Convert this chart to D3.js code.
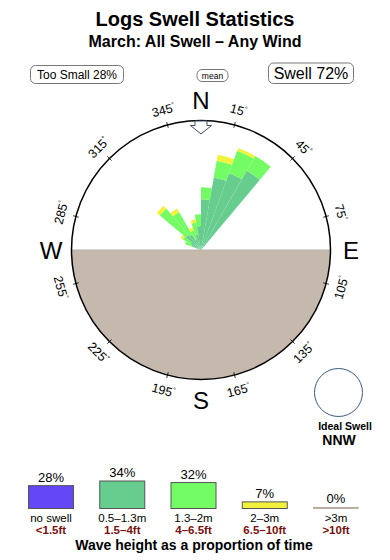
<!DOCTYPE html>
<html>
<head>
<meta charset="utf-8">
<script src="https://cdn.jsdelivr.net/npm/d3@7"></script>
<style>
  html, body { margin: 0; padding: 0; background: #fff; }
  svg { display: block; font-family: "Liberation Sans", Arial, Helvetica, sans-serif; }
</style>
</head>
<body>
<svg id="chart" width="390" height="560"></svg>
<script>
// ---------- data ----------
const title = "Logs Swell Statistics";
const subtitle = "March: All Swell \u2013 Any Wind";
const tooSmallPct = 28;
const swellPct = 72;
const idealSwell = "NNW";
const meanDirection = 0;

// direction bins (start angle, degrees, 10° wide)
const directions = [290, 300, 310, 320, 330, 340, 350, 0, 10, 20, 30];
// proportion per band (radial units) for each bin
const band05_13 = [1.0, 1.2, 2.0, 1.8, 1.2, 1.6, 2.4, 5.1, 7.4, 8.2, 9.2];
const band13_2  = [0.7, 0.9, 3.4, 2.6, 0.9, 1.2, 1.2, 1.2, 1.7, 2.4, 1.7];
const band2_3   = [0.0, 0.3, 0.4, 0.4, 0.3, 0.3, 0.0, 0.0, 0.6, 0.3, 0.0];
const radialMax = 13;

const tickAngles = [15, 45, 75, 105, 135, 165, 195, 225, 255, 285, 315, 345];
const cardinals = ["N", "E", "S", "W"];
const cardinalAngles = [0, 90, 180, 270];

const legendPct = [28, 34, 32, 7, 0];
const legendMetric = ["no swell", "0.5\u20131.3m", "1.3\u20132m", "2\u20133m", ">3m"];
const legendFeet = ["<1.5ft", "1.5\u20134ft", "4\u20136.5ft", "6.5\u201310ft", ">10ft"];
const legendColors = ["#6448f6", "#66cd8e", "#74fc64", "#f2f23c", "#c4b9ac"];
const bandColors = ["#66cd8e", "#74fc64", "#f2f23c"];

// ---------- layout ----------
const svg = d3.select("#chart");
const cx = 201, cy = 250, R = 129.5;
const rad = d => d * Math.PI / 180;

svg.append("text").attr("x", 195).attr("y", 26).attr("text-anchor", "middle")
  .attr("font-size", 20).attr("font-weight", "bold").text(title);
svg.append("text").attr("x", 195).attr("y", 47).attr("text-anchor", "middle")
  .attr("font-size", 16).attr("font-weight", "bold").text(subtitle);

// top boxes
function pill(x, y, w, h, txt, fs) {
  svg.append("rect").attr("x", x).attr("y", y).attr("width", w).attr("height", h)
    .attr("rx", 5).attr("fill", "#fff").attr("stroke", "#777").attr("stroke-width", 1);
  svg.append("text").attr("x", x + w / 2).attr("y", y + h / 2).attr("dy", "0.36em")
    .attr("text-anchor", "middle").attr("font-size", fs).text(txt);
}
pill(30.5, 65.5, 93, 18, `Too Small ${tooSmallPct}%`, 12);
pill(197, 69.5, 31, 12, "mean", 8.5);
pill(268.5, 63, 85, 20.5, `Swell ${swellPct}%`, 16);

// compass
const g = svg.append("g").attr("transform", `translate(${cx},${cy})`);
g.append("circle").attr("r", R).attr("fill", "#fff");
g.append("path")
  .attr("d", d3.arc()({ innerRadius: 0, outerRadius: R, startAngle: Math.PI / 2, endAngle: 3 * Math.PI / 2 }))
  .attr("fill", "#c4b9ac");
g.append("line").attr("x1", -R).attr("x2", R).attr("y1", 0).attr("y2", 0)
  .attr("stroke", "#b8b2ac").attr("stroke-width", 1);

// rose wedges
const r = d3.scaleLinear().domain([0, radialMax]).range([0, R]);
const arc = d3.arc();
const bands = [band05_13, band13_2, band2_3];
directions.forEach((dir, i) => {
  let base = 0;
  bands.forEach((band, b) => {
    const v = band[i];
    if (v > 0) {
      g.append("path")
        .attr("d", arc({ innerRadius: r(base), outerRadius: r(base + v),
                         startAngle: rad(dir), endAngle: rad(dir + 10) }))
        .attr("fill", bandColors[b]);
    }
    base += v;
  });
});

// circle outline and ticks
g.append("circle").attr("r", R).attr("fill", "none").attr("stroke", "#000").attr("stroke-width", 1.5);
tickAngles.forEach(a => {
  const s = Math.sin(rad(a)), c = -Math.cos(rad(a));
  g.append("line").attr("x1", (R - 3) * s).attr("y1", (R - 3) * c)
    .attr("x2", (R + 3) * s).attr("y2", (R + 3) * c)
    .attr("stroke", "#000").attr("stroke-width", 0.8);
  const lr = 145;
  const rot = (a > 90 && a < 270) ? a - 180 : (a > 270 ? a - 360 : a);
  const t = g.append("text")
    .attr("transform", `translate(${lr * s},${lr * c}) rotate(${rot})`)
    .attr("text-anchor", "middle").attr("dy", "0.36em").attr("font-size", 12.5);
  t.append("tspan").text(a);
  t.append("tspan").attr("font-size", 7).attr("dy", "-0.7em").text("\u00b0");
});

// cardinals
cardinals.forEach((c, i) => {
  const a = cardinalAngles[i];
  const lr = 150;
  g.append("text").attr("x", lr * Math.sin(rad(a))).attr("y", -lr * Math.cos(rad(a)))
    .attr("dy", "0.36em").attr("text-anchor", "middle").attr("font-size", 24).text(c);
});

// mean arrow at circle edge
const arrowShape = [[-6, 0], [-6, 4.5], [-10.5, 4.5], [0, 13], [10.5, 4.5], [6, 4.5], [6, 0]];
g.append("path")
  .attr("d", d3.line()(arrowShape.map(([x, y]) => [x, y - R + 0.5])) + "Z")
  .attr("transform", `rotate(${meanDirection})`)
  .attr("fill", "#fff").attr("stroke", "#3a4d66").attr("stroke-width", 1);

// ideal swell
svg.append("circle").attr("cx", 338.5).attr("cy", 392.5).attr("r", 24)
  .attr("fill", "#fff").attr("stroke", "#3b5a80").attr("stroke-width", 1);
svg.append("text").attr("x", 345).attr("y", 430).attr("text-anchor", "middle")
  .attr("font-size", 10.5).attr("font-weight", "bold").text("Ideal Swell");
svg.append("text").attr("x", 339).attr("y", 445).attr("text-anchor", "middle")
  .attr("font-size", 14).attr("font-weight", "bold").text(idealSwell);

// legend
const lx = d3.scalePoint().domain(d3.range(legendPct.length)).range([51, 336]);
const lh = d3.scaleLinear().domain([0, 34]).range([1.2, 27.5]);
const bottom = 508.5, bw = 45;
legendPct.forEach((p, i) => {
  const x = lx(i), h = lh(p);
  svg.append("rect").attr("x", x - bw / 2).attr("y", bottom - h).attr("width", bw).attr("height", h)
    .attr("fill", legendColors[i]).attr("stroke", p > 0 ? "#555" : "#998877").attr("stroke-width", p > 0 ? 1 : 0.5);
  svg.append("text").attr("x", x).attr("y", bottom - h - 4).attr("text-anchor", "middle")
    .attr("font-size", 13).text(p + "%");
  svg.append("text").attr("x", x).attr("y", 521.5).attr("text-anchor", "middle")
    .attr("font-size", 11.5).text(legendMetric[i]);
  svg.append("text").attr("x", x).attr("y", 534).attr("text-anchor", "middle")
    .attr("font-size", 11.5).attr("font-weight", "bold").attr("fill", "#7a1010").text(legendFeet[i]);
});
svg.append("text").attr("x", 194).attr("y", 550).attr("text-anchor", "middle")
  .attr("font-size", 14).attr("font-weight", "bold").text("Wave height as a proportion of time");
</script>
</body>
</html>
